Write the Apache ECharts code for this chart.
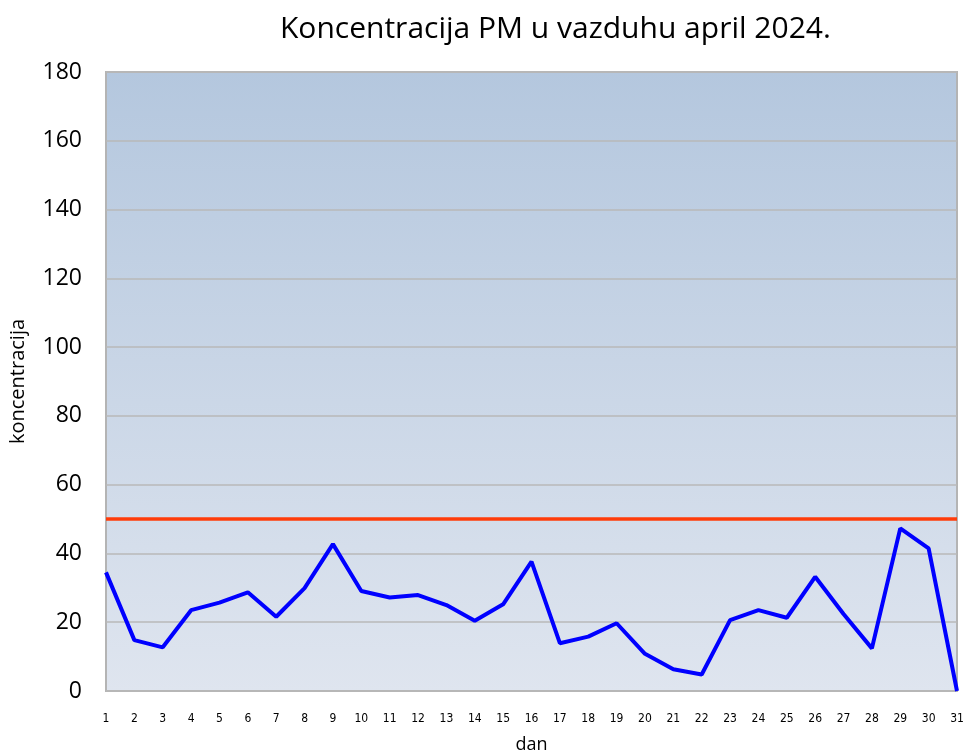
<!DOCTYPE html>
<html>
<head>
<meta charset="utf-8">
<script src="https://cdn.jsdelivr.net/npm/echarts@6/dist/echarts.min.js"></script>
<style>
  html, body { margin: 0; padding: 0; background: #fff; }
  #chart { width: 965px; height: 754px; }
</style>
</head>
<body>
<div id="chart"></div>
<script>
  // dani u aprilu (31 tacka na osi)
  const days = ['1','2','3','4','5','6','7','8','9','10','11','12','13','14','15','16',
    '17','18','19','20','21','22','23','24','25','26','27','28','29','30','31']
  // koncentracija PM po danima
  const pmValues = [34.5, 14.8, 12.7, 23.5, 25.7, 28.7, 21.6, 29.9, 42.7, 29.1, 27.2,
    27.9, 25.0, 20.4, 25.2, 37.6, 13.9, 15.8, 19.7, 10.8, 6.3, 4.8, 20.6, 23.5, 21.3,
    33.2, 22.4, 12.4, 47.3, 41.5, 0]
  // granicna vrijednost
  const limitValue = 50

  const chart = echarts.init(document.getElementById('chart'))
  const font = 'Open Sans'

  const option = {
    animation: false,
    title: {
      text: 'Koncentracija PM u vazduhu april 2024.',
      left: 275,
      top: 9,
      textStyle: { fontFamily: font, fontSize: 30, fontWeight: 'normal', color: '#000' }
    },
    grid: {
      left: 106, right: 8, top: 72, bottom: 63,
      outerBoundsMode: 'none',
      containLabel: false,
      show: true,
      borderColor: '#b4b4b4',
      borderWidth: 2,
      backgroundColor: {
        type: 'linear', x: 0, y: 0, x2: 0, y2: 1,
        colorStops: [
          { offset: 0, color: '#b4c7de' },
          { offset: 1, color: '#dfe5ef' }
        ]
      }
    },
    xAxis: {
      type: 'category',
      data: days,
      boundaryGap: false,
      name: 'dan',
      nameLocation: 'middle',
      nameGap: 45,
      nameTextStyle: { fontFamily: font, fontSize: 18, color: '#000' },
      axisLine: { show: false },
      axisTick: { show: false },
      axisLabel: { interval: 0, fontFamily: 'DejaVu Sans Condensed, Liberation Sans', fontSize: 12, color: '#000', margin: 22 },
      splitLine: { show: false }
    },
    yAxis: {
      type: 'value',
      min: 0, max: 180, interval: 20,
      name: 'koncentracija',
      nameLocation: 'middle',
      nameGap: 78,
      nameTextStyle: { fontFamily: font, fontSize: 20, color: '#000' },
      axisLine: { show: false },
      axisTick: { show: false },
      axisLabel: { fontFamily: font, fontSize: 23, color: '#000', margin: 24 },
      splitLine: { lineStyle: { color: '#b9b9b9', width: 1.5 } }
    },
    series: [
      {
        type: 'line',
        data: pmValues,
        symbol: 'none',
        lineStyle: { color: '#0000ff', width: 4 },
        markLine: {
          silent: true,
          symbol: 'none',
          label: { show: false },
          lineStyle: { color: '#ff3c0a', width: 3.5, type: 'solid' },
          data: [{ yAxis: limitValue }]
        }
      }
    ]
  }

  chart.setOption(option)
</script>
</body>
</html>
